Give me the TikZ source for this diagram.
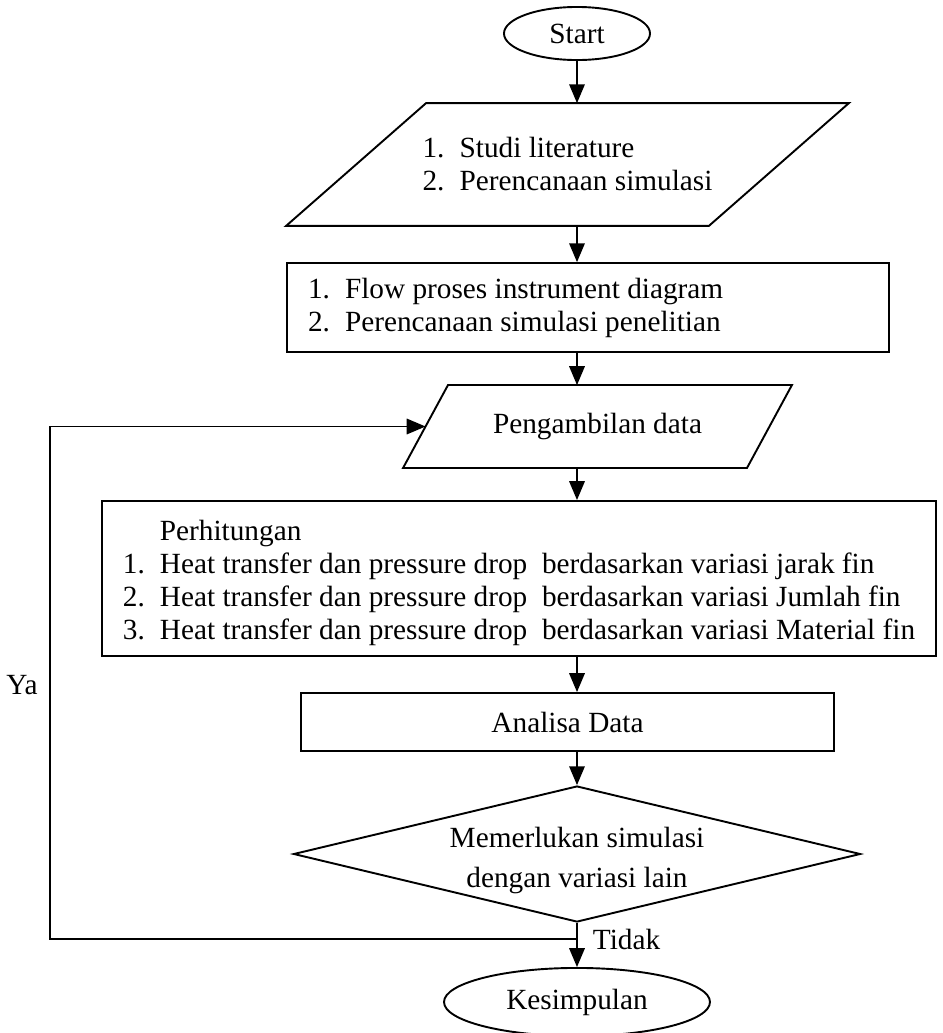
\documentclass[tikz,border=0pt]{standalone}
\usepackage{fontspec}
\setmainfont{Liberation Serif}
\usepackage{pgf,tikz}
\usetikzlibrary{shapes, calc, shapes.geometric, arrows, math}

\newcommand{\nlab}[1]{\makebox[15.5pt][l]{#1}}
\newcommand{\ioshape}[2]{\draw ([xshift=#2]#1.north west) -- ([xshift=#2]#1.north east) -- ([xshift=-#2]#1.south east) -- ([xshift=-#2]#1.south west) -- cycle;}
\newcommand{\lowertext}[2]{\raisebox{-#1}[\height][\depth]{#2}}

\tikzset{
  terminal/.style={draw, ellipse, inner sep=0pt},
  process/.style={draw, rectangle, inner ysep=0pt, inner xsep=8.8pt, align=flush left},
  iobox/.style={rectangle, inner sep=0pt, align=flush left},
  decision/.style={draw, diamond, aspect=4.2, inner sep=0pt, align=center}
}

\begin{document}
\begin{tikzpicture}[x=0.4184pt, y=-0.4184pt, >=triangle 45, line width=0.8pt, font=\fontsize{12.25}{13.8}\selectfont]

\tikzmath{
			\xc = 577; \ysplit = 939; \xloop = 50;
         }

\useasboundingbox (0,0) rectangle (942,1033);

\node[terminal, minimum width=61.1pt, minimum height=22.2pt] (start) at (\xc,33.5) {Start};

\node[iobox, minimum width=176.1pt, minimum height=50.6pt] (lit) at (567.5,164.5)
  {\nlab{1.}Studi literature\\ \nlab{2.}Perencanaan simulasi};
\ioshape{lit}{29.3pt}

\node[process, text width=234.3pt, minimum height=37.2pt] (flow) at (588,307.5)
  {\nlab{1.}Flow proses instrument diagram\\ \nlab{2.}Perencanaan simulasi penelitian};

\node[iobox, minimum width=143.1pt, minimum height=33.9pt] (data) at (597.5,426.5) {Pengambilan data};
\ioshape{data}{9.4pt}

\node[process, inner xsep=0pt, minimum width=348.9pt, minimum height=64.9pt] (calc) at (519,578.5)
  {\lowertext{2pt}{\begin{tabular}{@{}l@{}}
   \nlab{}Perhitungan\\
   \nlab{1.}Heat transfer dan pressure drop~ berdasarkan variasi jarak fin\\
   \nlab{2.}Heat transfer dan pressure drop~ berdasarkan variasi Jumlah fin\\
   \nlab{3.}Heat transfer dan pressure drop~ berdasarkan variasi Material fin
   \end{tabular}}};

\node[draw, rectangle, minimum width=223pt, minimum height=24.3pt] (analisa) at (567.5,722) {Analisa Data};

\node[decision, minimum width=237.2pt, minimum height=56.9pt] (dec) at (\xc,854)
  {\lowertext{3pt}{\begin{tabular}{@{}c@{}}Memerlukan simulasi\\[2.9pt] dengan variasi lain\end{tabular}}};

\node[terminal, minimum width=111.3pt, minimum height=28.5pt] (kes) at (\xc,1002) {Kesimpulan};

% connectors
\draw[->] (start) -- (start |- lit.north);
\draw[->] (start |- lit.south) -- (start |- flow.north);
\draw[->] (start |- flow.south) -- (start |- data.north);
\draw[->] (start |- data.south) -- (start |- calc.north);
\draw[->] (start |- calc.south) -- (start |- analisa.north);
\draw[->] (start |- analisa.south) -- (dec);
\draw[->] (dec) -- (kes);

\coordinate (split) at (\xc,\ysplit);
\coordinate (loop) at (\xloop,\ysplit);
\draw[->] (split) -- (loop) |- (data.west);

\node (ya) at (22,685) {Ya};
\node[anchor=west, inner sep=0pt] (tidak) at (592,\ysplit) {Tidak};

\end{tikzpicture}
\end{document}
